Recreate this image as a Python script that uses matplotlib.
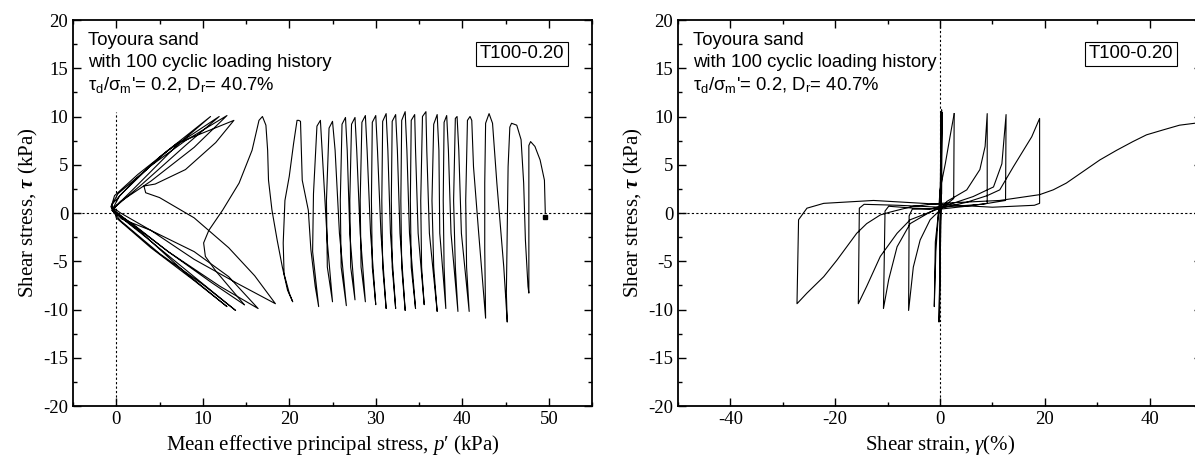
import matplotlib
matplotlib.use("Agg")
import matplotlib.pyplot as plt
from matplotlib.ticker import MultipleLocator
import numpy as np

# stress path p' - tau (kPa), in test order
path_spikes = [
    (49.6, 0.0), (49.5, 3.4), (49.0, 5.5), (48.4, 6.9), (47.9, 7.4), (47.7, 7.0), (47.7, 0.3), (47.7, -8.3),
    (47.6, -7.6), (47.3, -2.8), (47.1, 3.1), (46.8, 7.6), (46.3, 9.1), (45.7, 9.3), (45.5, 8.9), (45.3, 4.8), (45.2, -2.1), (45.1, -8.3), (45.2, -11.3),
    (44.8, -5.6), (44.0, 3.1), (43.5, 9.3), (43.1, 10.3), (42.7, 9.3), (42.6, 3.1), (42.6, -3.8), (42.7, -10.9),
    (41.9, -2.1), (41.3, 4.8), (41.1, 9.6), (40.9, 10.0), (40.6, 9.6), (40.4, 1.3), (40.5, -5.6), (40.8, -10.2),
    (39.9, -2.1), (39.6, 6.5), (39.4, 10.0), (39.2, 9.8), (39.0, 1.3), (39.2, -5.6), (39.5, -10.2),
    (38.7, -2.1), (38.4, 6.5), (38.2, 10.1), (37.9, 9.4), (37.8, 1.3), (37.9, -5.6), (38.1, -9.9),
    (37.4, -2.1), (37.3, 6.5), (37.1, 10.2), (36.7, 9.2), (36.5, 1.3), (36.7, -5.6), (37.1, -10.2),
    (36.2, -2.1), (35.9, 6.5), (35.8, 10.5), (35.4, 10.0), (35.2, 1.3), (35.3, -5.6), (35.6, -9.5),
    (34.9, -2.1), (34.6, 6.5), (34.5, 10.2), (34.1, 9.6), (34.0, 1.3), (34.1, -5.6), (34.6, -9.9),
    (33.9, -2.1), (33.6, 6.5), (33.4, 10.5), (33.0, 9.6), (32.9, 1.3), (33.0, -5.6), (33.4, -10.1),
    (32.8, -2.1), (32.5, 6.5), (32.3, 10.2), (31.9, 9.5), (31.8, 1.3), (31.9, -5.6), (32.3, -9.9),
    (31.7, -2.1), (31.4, 6.5), (31.2, 10.3), (30.8, 9.5), (30.7, 1.3), (30.8, -5.6), (31.2, -9.9),
    (30.6, -2.1), (30.2, 6.5), (30.0, 10.1), (29.6, 9.4), (29.5, 1.3), (29.6, -5.6), (30.0, -9.5),
    (29.4, -2.1), (29.0, 6.5), (28.8, 10.1), (28.4, 9.4), (28.2, 1.3), (28.3, -5.6), (28.8, -9.2),
    (28.2, -2.1), (27.8, 6.5), (27.6, 9.9), (27.2, 9.2), (27.0, 1.3), (27.1, -5.6), (27.6, -9.0),
    (27.0, -2.1), (26.7, 6.5), (26.5, 9.9), (26.1, 9.2), (25.9, 1.3), (26.0, -5.6), (26.6, -9.6),
    (25.8, -2.1), (25.3, 6.5), (25.0, 9.5), (24.6, 8.8), (24.3, 1.3), (24.4, -5.6), (25.0, -9.2),
    (24.4, -3.0), (23.9, 5.0), (23.6, 9.6), (23.2, 9.0), (22.8, 2.0), (22.7, -4.0), (23.4, -9.7),
    (23.0, -7.6), (22.5, -3.8), (22.2, 0.3), (21.5, 3.4), (21.3, 9.5), (21.1, 9.6), (20.9, 9.6), (20.5, 7.2),
    (20.0, 3.8), (19.5, 1.3), (19.3, -3.1), (19.4, -6.3), (20.0, -8.3), (20.4, -9.2),
    (19.8, -8.0), (19.2, -5.6), (18.6, -2.8), (18.0, 0.3), (17.6, 3.4), (17.5, 6.5), (17.3, 9.1), (16.9, 10.0),
    (16.5, 9.6), (15.7, 6.5), (14.2, 3.1), (12.3, 0.3), (10.7, -1.8), (10.1, -3.1), (10.3, -4.5), (11.5, -6.0),
    (13.2, -7.8), (14.8, -9.5),
]
path_butterfly = [
    (14.8, -9.5), (11.0, -7.2), (6.0, -4.0), (2.0, -1.2), (0.0, 0.0), (-0.6, 0.6), (-0.2, 1.8), (2.5, 4.0), (7.0, 7.2), (13.6, 9.6),
    (11.5, 7.3), (8.0, 4.5), (4.5, 3.0), (3.2, 2.8), (3.4, 2.1), (5.0, 1.6), (9.0, -0.5), (13.0, -3.6), (16.0, -6.5), (18.4, -9.4),
    (14.0, -7.3), (9.0, -4.8), (4.0, -1.8), (0.5, 0.0), (-0.6, 0.7), (0.2, 2.0), (4.0, 4.9), (8.0, 7.5), (12.8, 10.1),
    (9.0, 6.8), (4.0, 3.3), (0.5, 1.2), (-0.5, 0.3), (0.5, -0.8), (5.0, -4.2), (10.0, -7.4), (13.8, -10.1),
    (9.0, -6.6), (3.0, -2.2), (-0.4, 0.2), (-0.5, 0.9), (2.0, 3.3), (6.0, 6.5), (11.9, 10.0),
    (8.0, 7.0), (3.0, 3.0), (-0.3, 0.5), (0.0, -0.5), (4.0, -3.6), (9.0, -7.0), (12.8, -9.7),
    (8.0, -6.2), (3.0, -2.1), (-0.5, 0.3), (0.4, 1.8), (5.0, 5.8), (10.9, 10.0),
    (7.0, 7.0), (2.0, 2.5), (-0.4, 0.4), (0.6, -0.6), (4.0, -1.8), (9.0, -4.0), (13.0, -6.6), (16.4, -9.9),
    (12.0, -7.6), (6.0, -4.0), (1.0, -0.6), (-0.5, 0.5),
]

# stress-strain gamma(%) - tau(kPa), in test order
strain_small = [
    (0.0, 0.0), (0.2, 10.5), (0.1, 0.0), (-0.1, -11.0), (0.0, 0.0), (0.3, 10.7), (0.2, 0.0), (-0.2, -11.3),
    (0.1, 0.0), (0.4, 10.4), (0.3, 2.0), (-0.3, 0.0), (-0.9, -3.0), (-1.1, -9.7),
    (-0.8, -4.0), (-0.3, 0.0), (0.0, 2.4), (1.0, 5.1), (1.9, 7.9), (2.7, 10.3),
]
strain_large = [
    (2.7, 10.3), (2.6, 1.5), (1.0, 0.8), (-2.0, 0.4), (-5.3, 0.4), (-5.9, -0.3), (-6.0, -10.1),
    (-5.1, -5.6), (-3.8, -2.8), (-1.9, -0.7), (0.0, 0.3), (1.3, 1.2), (5.1, 2.4), (7.6, 4.5), (8.6, 6.9), (9.0, 10.3),
    (9.0, 1.0), (5.0, 0.7), (0.0, 0.4), (-5.0, 0.5), (-9.8, 0.7), (-10.5, 0.2), (-10.8, -9.9),
    (-9.8, -6.9), (-8.2, -3.5), (-5.7, -1.1), (-1.9, 0.1), (0.0, 0.6), (3.0, 1.1), (6.3, 1.7), (10.2, 2.7), (11.8, 5.1), (12.6, 10.2),
    (12.5, 1.3), (8.0, 0.9), (0.0, 0.6), (-8.0, 0.8), (-14.5, 0.9), (-15.4, 0.5), (-15.6, -9.4),
    (-14.0, -7.6), (-11.4, -4.5), (-8.2, -2.1), (-5.7, -0.7), (-1.9, 0.1), (0.0, 0.5), (5.0, 1.1), (9.0, 1.8),
    (11.4, 2.4), (14.0, 4.8), (17.5, 7.9), (19.0, 9.8),
    (19.0, 1.0), (18.0, 0.8), (10.0, 0.6), (0.0, 0.9), (-12.7, 1.3), (-22.2, 1.0), (-25.4, 0.5), (-27.0, -0.7), (-27.3, -9.4),
    (-25.4, -8.3), (-22.2, -6.6), (-19.7, -4.9), (-17.8, -3.5), (-15.9, -2.1), (-14.0, -1.1), (-11.4, -0.2), (-9.5, 0.1),
    (-5.1, 0.7), (0.0, 1.0), (11.4, 1.3), (15.2, 1.6), (19.0, 1.9), (21.6, 2.4), (24.1, 3.1), (27.3, 4.3),
    (30.5, 5.5), (33.7, 6.5), (36.8, 7.4), (39.4, 8.1), (42.5, 8.6), (45.7, 9.1), (48.6, 9.3), (50.0, 9.4),
]

yticks = [-20, -15, -10, -5, 0, 5, 10, 15, 20]
info_lines = ["Toyoura sand", "with 100 cyclic loading history",
              r"$\mathsf{\tau_d/\sigma_m}$'= 0.2, D$_\mathsf{r}$= 40.7%"]
test_id = "T100-0.20"

plt.rcParams['font.family'] = 'Liberation Serif'
plt.rcParams['axes.unicode_minus'] = False
plt.rcParams['mathtext.fontset'] = 'custom'
plt.rcParams['mathtext.rm'] = 'Liberation Serif'
plt.rcParams['mathtext.it'] = 'Liberation Serif:italic'
plt.rcParams['mathtext.bf'] = 'Liberation Serif:bold:italic'
plt.rcParams['mathtext.sf'] = 'Liberation Sans'

fig = plt.figure(figsize=(11.95, 4.63), dpi=100)
ax1 = fig.add_axes([0.0611, 0.1231, 0.4343, 0.8337])
ax2 = fig.add_axes([0.5674, 0.1231, 0.4385, 0.8337])


def style(ax, xmaj, xmin):
    ax.set_ylim(-20, 20)
    ax.set_yticks(yticks)
    ax.yaxis.set_minor_locator(MultipleLocator(2.5))
    ax.xaxis.set_major_locator(MultipleLocator(xmaj))
    ax.xaxis.set_minor_locator(MultipleLocator(xmin))
    ax.tick_params(which='both', direction='in', top=True, right=True, width=1.0, labelsize=13.5)
    ax.tick_params(which='major', length=6)
    ax.tick_params(which='minor', length=3)
    for s in ax.spines.values():
        s.set_linewidth(1.3)
    ax.set_ylabel(r"Shear stress, $\mathbf{\tau}$ (kPa)", fontsize=15, labelpad=2)
    for i, line in enumerate(info_lines):
        ax.text(0.029, [0.935, 0.878, 0.819][i], line, transform=ax.transAxes,
                family='Liberation Sans', fontsize=13.3, va='baseline')
    ax.text(0.865, 0.912, test_id, transform=ax.transAxes, family='Liberation Sans',
            fontsize=13.3, ha='center', va='center',
            bbox=dict(boxstyle='square,pad=0.2', fc='white', ec='black', lw=0.8))


# left panel: stress path
ax1.set_xlim(-5, 55)
style(ax1, 10, 5)
ax1.axhline(0, color='black', lw=0.8, ls=(0, (2, 2)))
ax1.plot([0, 0], [-20, 10.5], color='black', lw=0.8, ls=(0, (2, 2)))
for seg in (path_spikes, path_butterfly):
    xy = np.array(seg)
    ax1.plot(xy[:, 0], xy[:, 1], color='black', lw=0.8)
ax1.plot(path_spikes[0][0], path_spikes[0][1] - 0.4, 's', color='black', ms=2.5)
ax1.set_xlabel("Mean effective principal stress, $p$\u2032 (kPa)", fontsize=15)

# right panel: stress-strain
ax2.set_xlim(-50, 50)
style(ax2, 20, 10)
ax2.axhline(0, color='black', lw=0.8, ls=(0, (2, 2)))
ax2.axvline(0, color='black', lw=0.8, ls=(0, (2, 2)))
for seg in (strain_small, strain_large):
    xy = np.array(seg)
    ax2.plot(xy[:, 0], xy[:, 1], color='black', lw=0.8)
ax2.set_xlabel(r"Shear strain, $\gamma$(%)", fontsize=15)

fig.savefig("out.png", dpi=100)
